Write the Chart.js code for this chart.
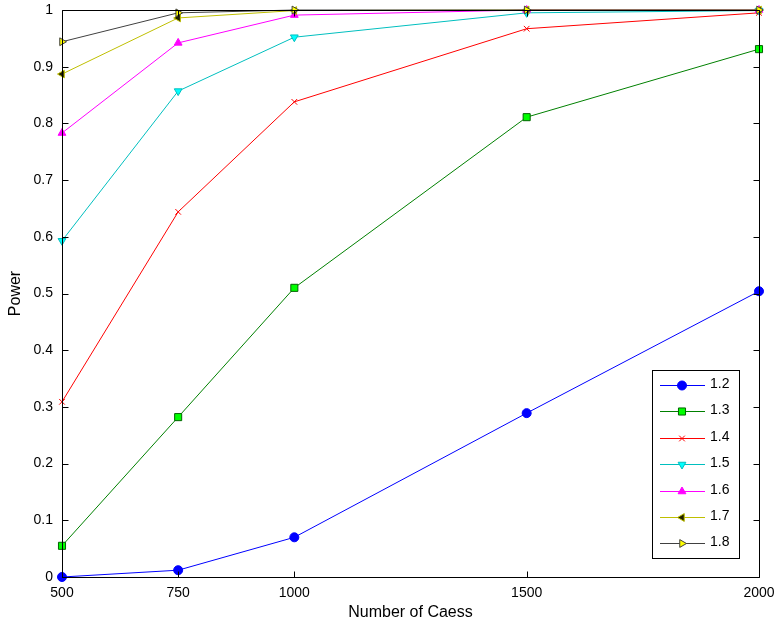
<!DOCTYPE html>
<html>
<head>
<meta charset="utf-8">
<script src="https://cdn.jsdelivr.net/npm/chart.js@4/dist/chart.umd.min.js"></script>
<style>
html,body{margin:0;padding:0;background:#fff;}
#wrap{width:775px;height:626px;}
</style>
</head>
<body>
<div id="wrap"><canvas id="c" width="775" height="626"></canvas></div>
<script>
// ---- data ----
const cases = [500, 750, 1000, 1500, 2000];
const xTicks = [500, 750, 1000, 1500, 2000];
const yTicks = [0, 0.1, 0.2, 0.3, 0.4, 0.5, 0.6, 0.7, 0.8, 0.9, 1];
const seriesNames = ['1.2', '1.3', '1.4', '1.5', '1.6', '1.7', '1.8'];
const p12 = [0.0, 0.012, 0.07, 0.289, 0.504];
const p13 = [0.055, 0.282, 0.51, 0.811, 0.931];
const p14 = [0.309, 0.644, 0.838, 0.967, 0.995];
const p15 = [0.593, 0.857, 0.952, 0.995, 0.999];
const p16 = [0.783, 0.942, 0.991, 1.0, 1.0];
const p17 = [0.887, 0.986, 0.999, 1.0, 1.0];
const p18 = [0.944, 0.995, 1.0, 1.0, 1.0];
const allSeries = [p12, p13, p14, p15, p16, p17, p18];

// ---- styles ----
const styles = [
  {line:'#0000ff', fill:'#0000ff', edge:'#0000ff', shape:'circle', rot:0, r:4.5},
  {line:'#008000', fill:'#00ff00', edge:'#006400', shape:'rect', rot:0, r:5},
  {line:'#ff0000', fill:'#ff0000', edge:'#ff0000', shape:'crossRot', rot:0, r:4},
  {line:'#00bfbf', fill:'#00ffff', edge:'#00bfbf', shape:'triangle', rot:180, r:4.5},
  {line:'#ff00ff', fill:'#ff00ff', edge:'#ff00ff', shape:'triangle', rot:0, r:4.5},
  {line:'#bfbf00', fill:'#202000', edge:'#bfbf00', shape:'triangle', rot:-90, r:4.5},
  {line:'#404040', fill:'#ffff00', edge:'#404040', shape:'triangle', rot:90, r:4.5}
];

const datasets = allSeries.map((vals, i) => ({
  label: seriesNames[i],
  data: cases.map((x, j) => ({x: x, y: vals[j]})),
  borderColor: styles[i].line,
  borderWidth: 1,
  backgroundColor: styles[i].fill,
  pointBackgroundColor: styles[i].fill,
  pointBorderColor: styles[i].edge,
  pointBorderWidth: 1,
  pointStyle: styles[i].shape,
  pointRotation: styles[i].rot,
  pointRadius: styles[i].r,
  tension: 0,
  clip: false,
  order: allSeries.length - 1 - i
}));

const FONT = '"Liberation Sans", Arial, sans-serif';

const framePlugin = {
  id: 'frame',
  afterDatasetsDraw(chart) {
    const ctx = chart.ctx, a = chart.chartArea;
    const xs = chart.scales.x, ys = chart.scales.y;
    ctx.save();
    ctx.strokeStyle = '#000';
    ctx.lineWidth = 1;
    ctx.beginPath();
    const L = Math.round(a.left) + 0.5, R = Math.round(a.right) + 0.5;
    const T = Math.round(a.top) + 0.5, B = Math.round(a.bottom) + 0.5;
    ctx.rect(L, T, R - L, B - T);
    const tl = 6;
    xTicks.forEach(v => {
      const px = Math.round(xs.getPixelForValue(v)) + 0.5;
      ctx.moveTo(px, B); ctx.lineTo(px, B - tl);
      ctx.moveTo(px, T); ctx.lineTo(px, T + tl);
    });
    yTicks.forEach(v => {
      const py = Math.round(ys.getPixelForValue(v)) + 0.5;
      ctx.moveTo(L, py); ctx.lineTo(L + tl, py);
      ctx.moveTo(R, py); ctx.lineTo(R - tl, py);
    });
    ctx.stroke();
    ctx.restore();
  },
  afterDraw(chart) {
    // legend box inside the plot
    const ctx = chart.ctx;
    const bx = 652.5, by = 370.5, bw = 87, bh = 188;
    ctx.save();
    ctx.fillStyle = '#fff';
    ctx.fillRect(bx, by, bw, bh);
    ctx.strokeStyle = '#000';
    ctx.lineWidth = 1;
    ctx.strokeRect(bx, by, bw, bh);
    const step = 26.4;
    chart.data.datasets.forEach((ds, i) => {
      const y = Math.round(385 + i * step) + 0.5;
      ctx.strokeStyle = ds.borderColor;
      ctx.lineWidth = 1;
      ctx.beginPath();
      ctx.moveTo(660, y); ctx.lineTo(705, y);
      ctx.stroke();
      ctx.fillStyle = ds.pointBackgroundColor;
      ctx.strokeStyle = ds.pointBorderColor;
      Chart.helpers.drawPoint(ctx, {
        pointStyle: ds.pointStyle,
        rotation: ds.pointRotation,
        radius: ds.pointRadius,
        borderWidth: 1
      }, 682, y);
      ctx.fillStyle = '#000';
      ctx.font = '14px ' + FONT;
      ctx.textBaseline = 'middle';
      ctx.textAlign = 'left';
      ctx.fillText(ds.label, 710, y - 1);
    });
    ctx.restore();
  }
};

new Chart(document.getElementById('c'), {
  type: 'line',
  data: { datasets: datasets },
  options: {
    responsive: false,
    animation: false,
    devicePixelRatio: 1,
    layout: { padding: { top: 10, right: 16, left: 0, bottom: 0 } },
    plugins: { legend: { display: false }, tooltip: { enabled: false } },
    scales: {
      x: {
        type: 'linear',
        min: 500, max: 2000,
        afterBuildTicks(scale) { scale.ticks = xTicks.map(v => ({value: v})); },
        afterFit(scale) { scale.height = 49; scale.paddingLeft = 0; scale.paddingRight = 0; },
        grid: { display: false, drawTicks: false },
        border: { display: false },
        ticks: {
          color: '#000', padding: 8, maxRotation: 0, autoSkip: false,
          font: { family: FONT, size: 14 },
          callback: v => String(v)
        },
        title: {
          display: true, text: 'Number of Caess', color: '#000',
          font: { family: FONT, size: 16 }, padding: { top: 0, bottom: 4 }
        }
      },
      y: {
        type: 'linear',
        min: 0, max: 1,
        afterBuildTicks(scale) { scale.ticks = yTicks.map(v => ({value: v})); },
        afterFit(scale) { scale.width = 62; scale.paddingTop = 0; scale.paddingBottom = 0; },
        grid: { display: false, drawTicks: false },
        border: { display: false },
        ticks: {
          color: '#000', padding: 9, autoSkip: false,
          font: { family: FONT, size: 14 },
          callback: v => String(Math.round(v * 10) / 10)
        },
        title: {
          display: true, text: 'Power', color: '#000',
          font: { family: FONT, size: 16 }, padding: { top: 6, bottom: 0 }
        }
      }
    }
  },
  plugins: [framePlugin]
});
</script>
</body>
</html>
